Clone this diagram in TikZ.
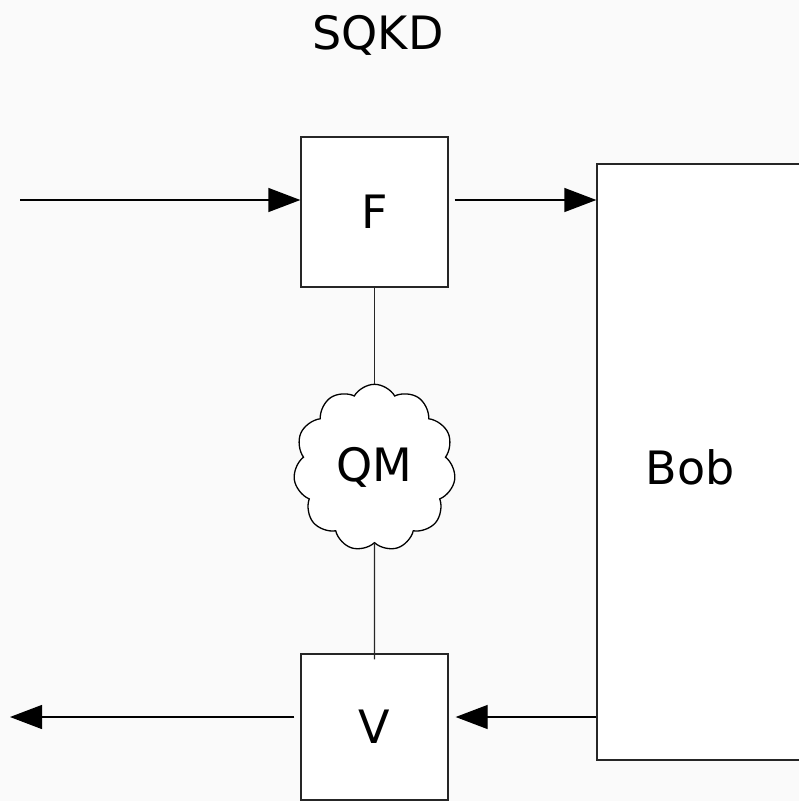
\documentclass[tikz,border=0pt]{standalone}
\usepackage{fontspec}
\setmainfont{DejaVu Sans}
\usetikzlibrary{arrows.meta, positioning, shapes.symbols}
\newcommand{\sqkdfont}{\fontsize{46}{55}\selectfont}

\begin{document}
\begin{tikzpicture}[x=1pt, y=-1pt,
        box/.style={rectangle, draw=black!85, line width=1.3pt, fill=white,
                    minimum width=147pt, minimum height=150pt,
                    inner sep=0pt, font=\sqkdfont},
        qmcloud/.style={cloud, draw=black, line width=1.3pt, fill=white,
                    cloud puffs=11, cloud puff arc=120,
                    minimum width=162pt, minimum height=167pt,
                    inner sep=0pt, font=\sqkdfont},
        arr/.style={-{Triangle[length=32pt, width=24pt]}, line width=1.3pt},
        link/.style={line width=1.3pt, draw=black!85}
    ]
        \fill[gray!4] (0,0) rectangle (799,801);
        \useasboundingbox (0,0) rectangle (799,801);
        \node[font=\sqkdfont] (title) at (378,35) {SQKD};
        \node[box] (F) at (374.5,212) {F};
        \node[qmcloud, below=96pt of F] (qm) {QM};
        \node[box, minimum height=146pt] (V) at (374.5,727) {V};
        \node[box, minimum width=220pt, minimum height=596pt,
              label={[font=\sqkdfont, xshift=-17pt, yshift=-5pt]center:Bob}] (bob) at (707,462) {};
        \coordinate (in) at (20,200);
        \coordinate (out) at (10,717);
        \draw[arr] (in) -- (F.west |- in);
        \draw[arr] ([xshift=6pt]F.east |- in) -- (bob.west |- in);
        \draw[arr] (bob.west |- out) -- ([xshift=7pt]V.east |- out);
        \draw[arr] ([xshift=-6pt]V.west |- out) -- (out);
        \draw[link] (F.south) -- (qm.north);
        \draw[link] (qm.south) -- ([yshift=-6pt]V.north);
    \end{tikzpicture}
\end{document}
